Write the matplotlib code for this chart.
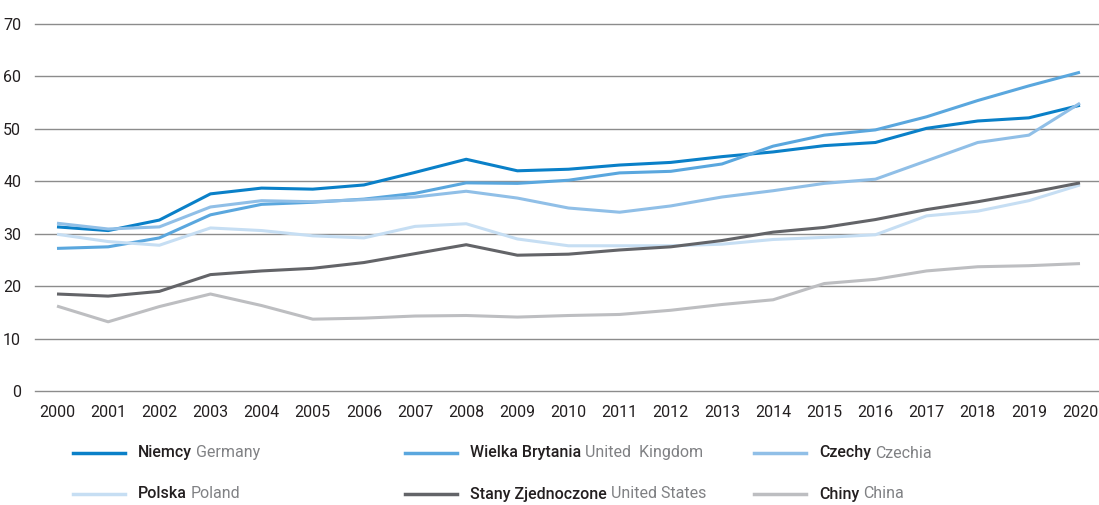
import matplotlib
matplotlib.use("Agg")
import matplotlib.pyplot as plt
from matplotlib.lines import Line2D
from matplotlib import font_manager

years = list(range(2000, 2021))

germany = [31.3, 30.6, 32.6, 37.6, 38.7, 38.5, 39.3, 41.7, 44.2, 42.0, 42.3, 43.1, 43.6, 44.7, 45.6, 46.8, 47.4, 50.1, 51.5, 52.1, 54.5]
uk = [27.2, 27.5, 29.2, 33.6, 35.6, 36.0, 36.6, 37.7, 39.7, 39.6, 40.2, 41.6, 41.9, 43.3, 46.7, 48.8, 49.8, 52.3, 55.4, 58.2, 60.8]
czechia = [32.0, 30.9, 31.3, 35.1, 36.3, 36.1, 36.5, 37.0, 38.1, 36.8, 34.9, 34.1, 35.3, 37.0, 38.2, 39.6, 40.4, 43.9, 47.4, 48.8, 54.9]
poland = [29.9, 28.5, 27.8, 31.1, 30.6, 29.6, 29.2, 31.4, 31.9, 29.0, 27.7, 27.7, 27.7, 28.0, 28.9, 29.3, 29.8, 33.4, 34.3, 36.3, 39.3]
usa = [18.5, 18.1, 19.0, 22.2, 22.9, 23.4, 24.5, 26.2, 27.9, 25.9, 26.1, 26.9, 27.5, 28.7, 30.3, 31.2, 32.7, 34.6, 36.1, 37.8, 39.7]
china = [16.2, 13.2, 16.1, 18.5, 16.3, 13.7, 13.9, 14.3, 14.4, 14.1, 14.4, 14.6, 15.4, 16.5, 17.4, 20.5, 21.3, 22.9, 23.7, 23.9, 24.3]

series = [germany, uk, czechia, poland, usa, china]
labels_pl = ["Niemcy", "Wielka Brytania", "Czechy", "Polska", "Stany Zjednoczone", "Chiny"]
labels_en = ["Germany", "United  Kingdom", "Czechia", "Poland", "United States", "China"]
colors = ["#0a80c8", "#5aa7de", "#90bfe7", "#c6def3", "#636468", "#bdbec1"]

available = {f.name for f in font_manager.fontManager.ttflist}
family = "Roboto" if "Roboto" in available else "DejaVu Sans"
plt.rcParams["font.family"] = [family, "DejaVu Sans"]

W, H = 1099, 505
fig = plt.figure(figsize=(W / 100, H / 100), dpi=100)
ax = fig.add_axes([35 / W, 1 - 391 / H, (W - 35) / W, (391 - 24) / H])

for values, color in zip(series, colors):
    ax.plot(years, values, color=color, linewidth=2.2, solid_capstyle="butt")

ax.set_xlim(2000 - 22 / 51.15, 2020 + 19 / 51.15)
ax.set_ylim(0, 70)
ax.set_yticks(range(0, 71, 10))
ax.set_xticks(years)
ax.grid(axis="y", color="#8c8c8c", linewidth=1)
for gl in ax.get_ygridlines():
    gl.set_clip_on(False)
ax.set_axisbelow(True)
for s in ax.spines.values():
    s.set_visible(False)
ax.tick_params(axis="both", length=0, labelsize=11.5, colors="#231f20")
ax.tick_params(axis="y", pad=10)
ax.tick_params(axis="x", pad=10)

# legend drawn by hand, two rows of three
col_x = [73, 405, 754]
row_y = [453, 494]
fig.canvas.draw()
renderer = fig.canvas.get_renderer()
for i, (pl, en, color) in enumerate(zip(labels_pl, labels_en, colors)):
    x0 = col_x[i % 3]
    y0 = row_y[i // 3]
    fy = 1 - y0 / H
    fig.add_artist(Line2D([x0 / W, (x0 + 52) / W], [fy, fy], color=color, linewidth=2.5,
                          transform=fig.transFigure))
    t = fig.text((x0 + 65) / W, fy, pl, fontsize=11.5, color="#231f20", va="center", ha="left",
                 fontweight="medium")
    bb = t.get_window_extent(renderer)
    fig.text((bb.x1 + 4) / W, fy, en, fontsize=11.5, color="#808184", va="center", ha="left")

fig.savefig("out.png", dpi=100)
